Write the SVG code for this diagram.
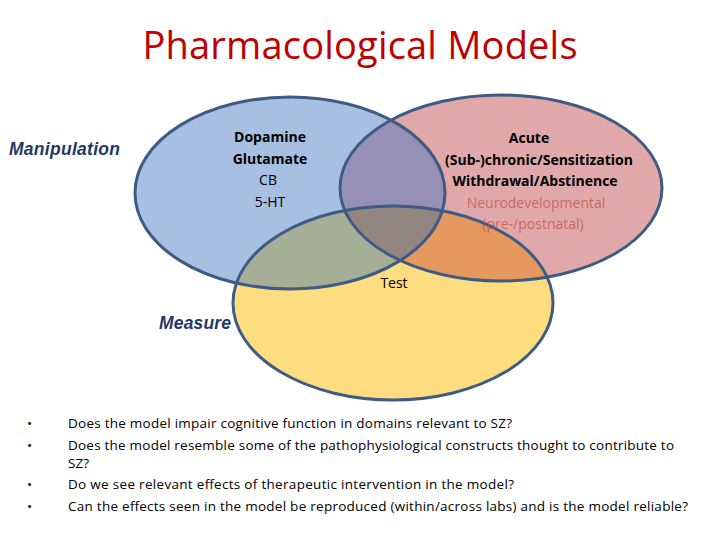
<svg xmlns="http://www.w3.org/2000/svg" width="720" height="540" viewBox="0 0 720 540">
<style>
.c{font-family:"Open Sans","Liberation Sans",sans-serif;font-size:14px;text-anchor:middle}
.b{font-weight:bold}
.i{font-family:"Liberation Sans",Arial,sans-serif;font-style:italic;font-weight:bold;font-size:17.5px;fill:#1f3864}
.l{font-family:"Open Sans","Liberation Sans",sans-serif;font-size:13.5px}
.st{fill:none;stroke:#3e5b84;stroke-width:3}
</style>
<defs>
<clipPath id="cb"><ellipse cx="290" cy="193" rx="155" ry="96"/></clipPath>
<clipPath id="cr"><ellipse cx="501" cy="188" rx="161" ry="93"/></clipPath>
<clipPath id="cy"><ellipse cx="393" cy="303" rx="160" ry="97"/></clipPath>
</defs>
<rect width="720" height="540" fill="#fff"/>
<text x="360" y="59" font-family="Open Sans,Liberation Sans,sans-serif" font-size="38" fill="#c00000" text-anchor="middle" textLength="435">Pharmacological Models</text>
<g id="venn">
<ellipse cx="290" cy="193" rx="155" ry="96" fill="#a7bfe0"/>
<ellipse cx="501" cy="188" rx="161" ry="93" fill="#e0a8a8"/>
<ellipse cx="393" cy="303" rx="160" ry="97" fill="#fddd80"/>
<ellipse cx="501" cy="188" rx="161" ry="93" fill="#9690b6" clip-path="url(#cb)"/>
<ellipse cx="393" cy="303" rx="160" ry="97" fill="#a6ae98" clip-path="url(#cb)"/>
<ellipse cx="393" cy="303" rx="160" ry="97" fill="#e5995f" clip-path="url(#cr)"/>
<g clip-path="url(#cb)"><ellipse cx="393" cy="303" rx="160" ry="97" fill="#938680" clip-path="url(#cr)"/></g>
</g>
<g id="outlines">
<ellipse class="st" cx="290" cy="193" rx="155" ry="96"/>
<ellipse class="st" cx="501" cy="188" rx="161" ry="93"/>
<ellipse class="st" cx="393" cy="303" rx="160" ry="97"/>
</g>
<g id="manip"><text class="c b" x="270" y="142">Dopamine</text><text class="c b" x="270" y="164">Glutamate</text><text class="c" x="268" y="185">CB</text><text class="c" x="270" y="207">5-HT</text></g>
<g id="acute"><text class="c b" x="529" y="143">Acute</text><text class="c b" x="539" y="165">(Sub-)chronic/Sensitization</text><text class="c b" x="535" y="186">Withdrawal/Abstinence</text><text class="c" x="536" y="208" fill="#c0504d" fill-opacity="0.75">Neurodevelopmental</text><text class="c" x="533" y="229" fill="#c0504d" fill-opacity="0.75">(pre-/postnatal)</text></g>
<text class="c" x="394" y="288">Test</text>
<text class="i" x="9" y="155" textLength="111">Manipulation</text>
<text class="i" x="159" y="329" textLength="72">Measure</text>
<g id="bullets" class="l">
<text x="27" y="428">•</text><text x="68" y="428" textLength="444">Does the model impair cognitive function in domains relevant to SZ?</text>
<text x="27" y="450">•</text><text x="68" y="450" textLength="606">Does the model resemble some of the pathophysiological constructs thought to contribute to</text>
<text x="68" y="468">SZ?</text>
<text x="27" y="489">•</text><text x="68" y="489" textLength="446">Do we see relevant effects of therapeutic intervention in the model?</text>
<text x="27" y="511">•</text><text x="68" y="511" textLength="620">Can the effects seen in the model be reproduced (within/across labs) and is the model reliable?</text>
</g>
</svg>
